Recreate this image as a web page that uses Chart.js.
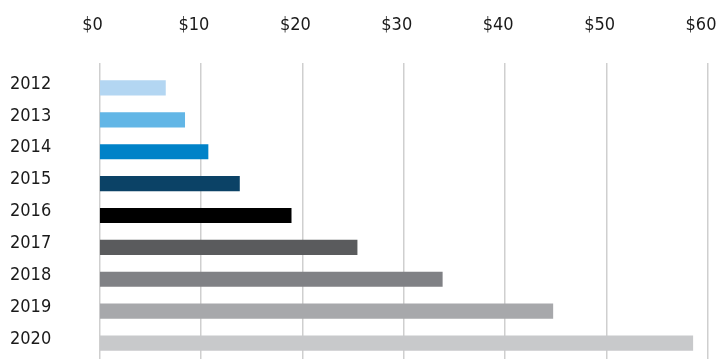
<!DOCTYPE html>
<html>
<head>
<meta charset="utf-8">
<script src="https://cdn.jsdelivr.net/npm/chart.js@4"></script>
<style>
  html, body { margin: 0; padding: 0; background: #fff; }
  #wrap { width: 716px; height: 360px; position: relative; }
</style>
</head>
<body>
<div id="wrap"><canvas id="chart"></canvas></div>
<script>
// years (categories)
const years = ['2012', '2013', '2014', '2015', '2016', '2017', '2018', '2019', '2020'];
// values in dollars
const values = [6.5, 8.4, 10.7, 13.8, 18.9, 25.4, 33.8, 44.7, 58.5];
// one colour per bar
const barColors = ['#b3d6f2', '#62b6e6', '#0082c8', '#0b4266', '#000000', '#5a5b5d', '#808185', '#a7a8ab', '#c8c9cb'];
// x axis ticks
const xTicks = [0, 10, 20, 30, 40, 50, 60];

const labelFont = { family: '"DejaVu Sans Condensed", "DejaVu Sans", sans-serif', size: 18 };

new Chart(document.getElementById('chart'), {
  type: 'bar',
  data: {
    labels: years,
    datasets: [{
      data: values,
      backgroundColor: barColors,
      borderWidth: 0,
      barThickness: 14.5
    }]
  },
  options: {
    indexAxis: 'y',
    responsive: true,
    maintainAspectRatio: false,
    animation: false,
    layout: { padding: { top: 13, right: 8, left: 10, bottom: 1 } },
    plugins: { legend: { display: false }, tooltip: { enabled: false } },
    scales: {
      x: {
        position: 'top',
        min: 0,
        max: 60,
        afterBuildTicks: (scale) => { scale.ticks = xTicks.map(v => ({ value: v })); },
        afterFit: (scale) => { scale.paddingLeft = 0; scale.paddingRight = 0; scale.height = 59; },
        border: { display: false },
        grid: { color: '#cfcfcf', lineWidth: 1.5, tickLength: 9 },
        ticks: {
          font: labelFont,
          color: '#1a1a1a',
          padding: 27,
          labelOffset: -7,
          maxRotation: 0,
          callback: (v) => '$' + v
        }
      },
      y: {
        afterFit: (scale) => { scale.width = 89.5; scale.paddingTop = 0; scale.paddingBottom = 0; },
        border: { display: false },
        grid: { display: false, drawTicks: false },
        ticks: {
          font: labelFont,
          color: '#1a1a1a',
          crossAlign: 'far',
          labelOffset: -4
        }
      }
    }
  }
});
</script>
</body>
</html>
